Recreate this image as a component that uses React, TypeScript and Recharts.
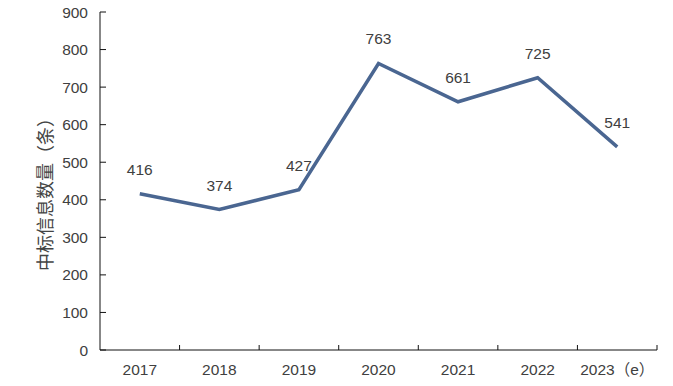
import * as React from "react";
import { Line, LineChart, XAxis, YAxis, LabelList, Label } from "recharts";

const years = ["2017", "2018", "2019", "2020", "2021", "2022", "2023（e）"];
const bids = [416, 374, 427, 763, 661, 725, 541];
const yTicks = [0, 100, 200, 300, 400, 500, 600, 700, 800, 900];

const data = years.map((year, i) => ({ year, bids: bids[i] }));

const W = 673;
const H = 386;
const margin = { top: 12, right: 16, bottom: 0, left: 0 };
const yAxisWidth = 100;
const band = (W - margin.left - margin.right - yAxisWidth) / years.length;

const textColor = "#404040";
const lineColor = "#4a6691";
const font = "'Liberation Sans', Arial, 'Noto Sans CJK SC', sans-serif";

/* x tick: label at band centre, tick mark on the band's right edge */
function XTick({ x, y, payload }: any) {
    const edge = x + band / 2;
    return (
        <g>
            <line x1={edge} x2={edge} y1={y} y2={y - 5} stroke="#111" strokeWidth={1} />
            <text
                x={x}
                y={y + 25}
                textAnchor="middle"
                fill={textColor}
                fontSize={15.5}
                fontFamily={font}
            >
                {payload.value}
            </text>
        </g>
    );
}

function YTitle({ viewBox }: any) {
    const cx = viewBox.x + 44;
    const cy = viewBox.y + viewBox.height / 2 + 9;
    return (
        <text
            x={cx}
            y={cy}
            transform={`rotate(-90, ${cx}, ${cy})`}
            textAnchor="middle"
            dominantBaseline="central"
            fill="#444"
            fontSize={18}
            fontFamily="'Noto Sans CJK SC', sans-serif"
        >
            中标信息数量（条）
        </text>
    );
}

export default function App() {
    return (
        <div style={{ position: "absolute", left: 0, top: 0, width: W, height: H, background: "#fff" }}>
            <LineChart width={W} height={H} data={data} margin={margin}>
                <XAxis
                    dataKey="year"
                    type="category"
                    scale="band"
                    height={36}
                    axisLine={{ stroke: "#111", strokeWidth: 1 }}
                    tickLine={false}
                    tickSize={0}
                    tickMargin={0}
                    interval={0}
                    tick={<XTick />}
                />
                <YAxis
                    width={yAxisWidth}
                    domain={[0, 900]}
                    ticks={yTicks}
                    interval={0}
                    axisLine={{ stroke: "#111", strokeWidth: 1 }}
                    tickLine={{ stroke: "#111", strokeWidth: 1 }}
                    tickSize={-6}
                    tickMargin={18}
                    tick={{ fill: textColor, fontSize: 15.5, fontFamily: font }}
                >
                    <Label content={<YTitle />} />
                </YAxis>
                <Line
                    type="linear"
                    dataKey="bids"
                    stroke={lineColor}
                    strokeWidth={3.5}
                    dot={false}
                    activeDot={false}
                    isAnimationActive={false}
                >
                    <LabelList
                        dataKey="bids"
                        position="top"
                        offset={19}
                        fill={textColor}
                        fontSize={15.5}
                        fontFamily={font}
                    />
                </Line>
            </LineChart>
        </div>
    );
}
